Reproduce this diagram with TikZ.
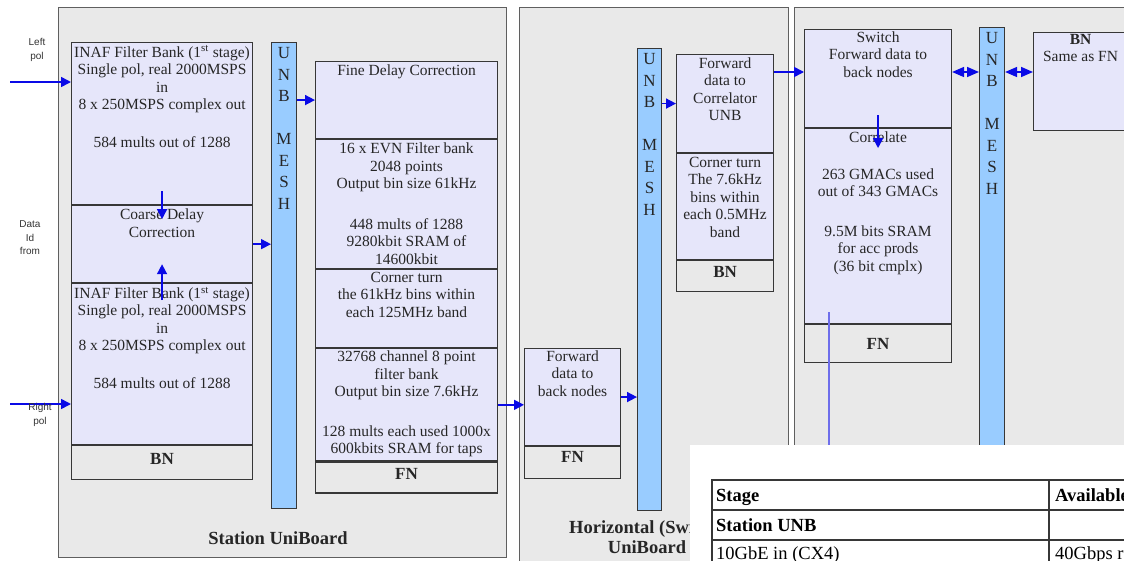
\documentclass[tikz,border=0pt]{standalone}
\usepackage{fontspec}
\setmainfont{Liberation Serif}
\newfontfamily\lblfont{Liberation Sans}
\usetikzlibrary{positioning,calc,arrows.meta}

\definecolor{boardgrey}{RGB}{233,233,233}
\definecolor{lav}{RGB}{230,230,250}
\definecolor{meshblue}{RGB}{153,204,255}
\definecolor{flowblue}{RGB}{10,10,230}
\definecolor{tapblue}{RGB}{110,110,235}
\definecolor{edge}{RGB}{55,55,55}

\begin{document}
\begin{tikzpicture}[x=1pt, y=-1pt,
    board/.style={draw=edge!80, fill=boardgrey, line width=0.9pt, anchor=north west, inner sep=0},
    sect/.style={draw=edge, fill=lav, line width=1.1pt, anchor=north west, inner sep=0},
    foot/.style={sect, fill=boardgrey},
    mesh/.style={draw=edge, fill=meshblue, line width=1.1pt, anchor=north west, inner sep=0},
    txt/.style={font=\fontsize{15.5}{17.5}\selectfont, align=center, inner sep=0, text=black!85},
    tag/.style={font=\bfseries\fontsize{17}{20}\selectfont, inner sep=0, text=black!85},
    meshtxt/.style={font=\fontsize{17}{21.5}\selectfont, align=center, inner sep=0, text=black!85},
    lbl/.style={font=\lblfont\fontsize{10}{13.5}\selectfont, align=center, inner sep=0, text=black!80},
    title/.style={font=\bfseries\fontsize{18.5}{20.5}\selectfont, align=center, inner sep=0, text=black!85},
    flow/.style={draw=flowblue, line width=1.6pt, -{Triangle[length=10pt,width=10pt]}},
    both/.style={draw=flowblue, line width=1.6pt, {Triangle[length=12pt,width=10pt]}-{Triangle[length=12pt,width=10pt]}},
    cell/.style={font=\fontsize{18.5}{20}\selectfont, anchor=base west, inner sep=0},
    cellb/.style={cell, font=\bfseries\fontsize{18.5}{20}\selectfont}
]

    \useasboundingbox (0,0) rectangle (1124,560);
    \clip (0,0) rectangle (1124,560);

    % Boards
    \node[board, minimum width=448, minimum height=550] (stn) at (58,7) {};
    \node[board, minimum width=269, minimum height=565] (hor) at (519,7) {};
    \node[board, minimum width=345, minimum height=565] (cor) at (794,7) {};

    % Station UniBoard: back node
    \node[sect, minimum width=181, minimum height=162] (inafA) at (71,42) {};
    \node[sect, minimum width=181, minimum height=77] (coarse) at (inafA.south west) {};
    \node[sect, minimum width=181, minimum height=161] (inafB) at (coarse.south west) {};
    \node[foot, minimum width=181, minimum height=34] (bn1) at (inafB.south west) {};

    \node[txt, below=3.5pt of inafA.north] (inafA-t) {INAF Filter Bank (1\textsuperscript{st} stage)\\Single pol, real 2000MSPS\\in\\8 x 250MSPS complex out\\[20pt]584 mults out of 1288};
    \node[txt, below=3.5pt of coarse.north] (coarse-t) {Coarse Delay\\Correction};
    \node[txt, below=3.5pt of inafB.north] (inafB-t) {INAF Filter Bank (1\textsuperscript{st} stage)\\Single pol, real 2000MSPS\\in\\8 x 250MSPS complex out\\[20pt]584 mults out of 1288};
    \node[tag] (bn1-t) at ($(bn1.north)+(0,14)$) {BN};

    % Station UniBoard: mesh
    \node[mesh, minimum width=25, minimum height=466] (mesh1) at (271,42) {};
    \node[meshtxt, below=5.5pt of mesh1.north] (mesh1-t) {U\\N\\B\\[21.5pt]M\\E\\S\\H};

    % Station UniBoard: front node
    \node[sect, minimum width=182, minimum height=77] (fdc) at (315,61) {};
    \node[sect, minimum width=182, minimum height=129] (evn) at (fdc.south west) {};
    \node[sect, minimum width=182, minimum height=78] (ct1) at (evn.south west) {};
    \node[sect, minimum width=182, minimum height=112] (fb32) at (ct1.south west) {};
    \node[foot, minimum width=182, minimum height=31] (fn1) at (fb32.south west) {};

    \node[txt, below=3.5pt of fdc.north] (fdc-t) {Fine Delay Correction};
    \node[txt, below=3.5pt of evn.north] (evn-t) {16 x EVN Filter bank\\2048 points\\Output bin size 61kHz\\[23pt]448 mults of 1288\\9280kbit SRAM of\\14600kbit};
    \node[txt, below=2.5pt of ct1.north] (ct1-t) {Corner turn\\the 61kHz bins within\\each 125MHz band};
    \node[txt, below=2.5pt of fb32.north] (fb32-t) {32768 channel 8 point\\filter bank\\Output bin size 7.6kHz\\[22pt]128 mults each used 1000x\\600kbits SRAM for taps};
    \node[tag] (fn1-t) at ($(fn1.north)+(0,13)$) {FN};

    % Horizontal (switch) UniBoard
    \node[sect, minimum width=96, minimum height=97] (fwd) at (524,348) {};
    \node[foot, minimum width=96, minimum height=32] (fn2) at (fwd.south west) {};
    \node[txt, below=2.5pt of fwd.north] (fwd-t) {Forward\\data to\\back nodes};
    \node[tag] (fn2-t) at ($(fn2.north)+(0,11)$) {FN};

    \node[mesh, minimum width=24, minimum height=462] (mesh2) at (637,48) {};
    \node[meshtxt, below=5.5pt of mesh2.north] (mesh2-t) {U\\N\\B\\[21.5pt]M\\E\\S\\H};

    \node[sect, minimum width=97, minimum height=98] (fwdc) at (676,54) {};
    \node[sect, minimum width=97, minimum height=106] (ct2) at (fwdc.south west) {};
    \node[foot, minimum width=97, minimum height=31] (bn2) at (ct2.south west) {};
    \node[txt, below=3.5pt of fwdc.north] (fwdc-t) {Forward\\data to\\Correlator\\UNB};
    \node[txt, below=3.5pt of ct2.north] (ct2-t) {Corner turn\\The 7.6kHz\\bins within\\each 0.5MHz\\band};
    \node[tag] (bn2-t) at ($(bn2.north)+(0,12)$) {BN};

    % Correlator UniBoard
    \node[sect, minimum width=147, minimum height=98] (sw) at (804,29) {};
    \node[sect, minimum width=147, minimum height=195] (corr) at (sw.south west) {};
    \node[foot, minimum width=147, minimum height=38] (fn3) at (corr.south west) {};
    \node[txt, below=2.5pt of sw.north] (sw-t) {Switch\\Forward data to\\back nodes};
    \node[txt, below=3.5pt of corr.north] (corr-t) {Correlate\\[19pt]263 GMACs used\\out of 343 GMACs\\[22pt]9.5M bits SRAM\\for acc prods\\(36 bit cmplx)};
    \node[tag] (fn3-t) at (fn3.center) {FN};

    \node[mesh, minimum width=25, minimum height=560] (mesh3) at (979,27) {};
    \node[meshtxt, below=5.5pt of mesh3.north] (mesh3-t) {U\\N\\B\\[21.5pt]M\\E\\S\\H};

    \node[sect, minimum width=94, minimum height=98] (bnr) at (1033,32) {};
    \node[txt, below=2pt of bnr.north] (bnr-t) {\textbf{BN}\\Same as FN};

    % Data flow
    \coordinate (lpin) at (10,82);
    \coordinate (rpin) at (10,404);
    \coordinate (bus) at (0,72);
    \draw[flow] (lpin) -- (lpin -| inafA.west);
    \draw[flow] (rpin) -- (rpin -| inafB.west);
    \draw[flow] ($(inafA.south)+(0,-14)$) -- ($(coarse.north)+(0,14)$);
    \draw[flow] ($(inafB.north)+(0,17)$) -- ($(coarse.south)+(0,-19)$);
    \draw[flow] (coarse.east) -- (coarse.east -| mesh1.west);
    \draw[flow] (mesh1.east |- fdc.west) -- (fdc.west);
    \draw[flow] (fb32.east) -- (fb32.east -| fwd.west);
    \draw[flow] (fwd.east) -- (fwd.east -| mesh2.west);
    \draw[flow] (mesh2.east |- fwdc.west) -- (fwdc.west);
    \draw[flow] (fwdc.east |- bus) -- (sw.west |- bus);
    \draw[both] (sw.east |- bus) -- (mesh3.west |- bus);
    \draw[both] (mesh3.east |- bus) -- (bnr.west |- bus);
    \draw[flow] ($(sw.south)+(0,-13)$) -- ($(corr.north)+(0,20)$);

    % Tap line out of the correlator
    \coordinate (tapA) at (829,312);
    \coordinate (tapB) at (829,570);
    \draw[tapblue, line width=1.3pt] (tapA) -- (tapB);

    % Input labels
    \node[lbl] (lp-t) at (37,50) {Left\\pol};
    \node[lbl] (di-t) at (30,238) {Data\\Id\\from};
    \node[lbl] (rp-t) at (40,415) {Right\\pol};

    % Board labels
    \node[title] (stn-t) at (278,538) {Station UniBoard};
    \node[title, anchor=north] (hor-t) at (647,520) {Horizontal (Switch)\\UniBoard};

    % Table pasted on top
    \fill[white] (690,445) rectangle (1140,570);
    \draw[edge, line width=1.2pt] (712,570) -- (712,480) -- (1140,480)
        (712,510) -- (1140,510) (712,540) -- (1140,540) (1049,480) -- (1049,570);
    \node[cellb] (c11) at (716,501) {Stage};
    \node[cellb] (c12) at (1055,501) {Available};
    \node[cellb] (c21) at (716,531) {Station UNB};
    \node[cell] (c31) at (716,559) {10GbE in (CX4)};
    \node[cell] (c32) at (1055,559) {40Gbps r};

\end{tikzpicture}
\end{document}
